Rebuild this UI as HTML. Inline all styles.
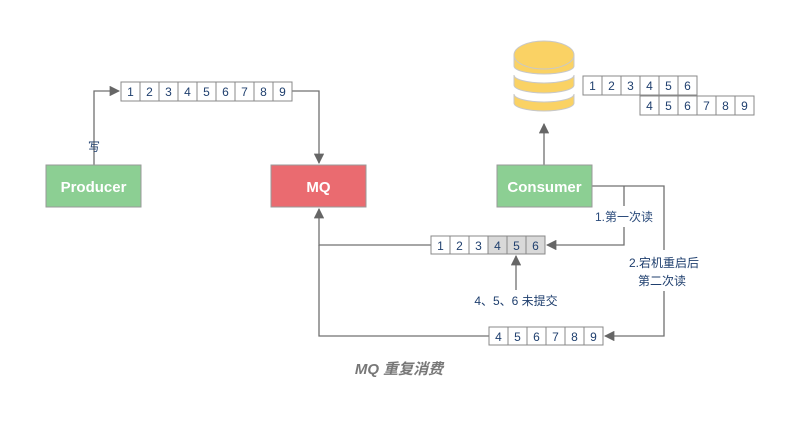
<!DOCTYPE html>
<html><head><meta charset="utf-8"><style>
body{margin:0;background:#fff;}
svg text{font-family:"Liberation Sans","Noto Sans CJK SC",sans-serif;}
</style></head><body>
<svg width="796" height="423" viewBox="0 0 796 423" xmlns="http://www.w3.org/2000/svg">
<defs>
<marker id="a" viewBox="0 0 10 10" refX="9" refY="5" markerWidth="8" markerHeight="8" orient="auto"><path d="M0,0 L10,5 L0,10 z" fill="#666"/></marker>
</defs>
<g stroke="#707070" stroke-width="1.3" fill="none">
<path d="M94,165 V91 H119" marker-end="url(#a)"/>
<path d="M292,91 H319 V163" marker-end="url(#a)"/>
<path d="M544,165 V124" marker-end="url(#a)"/>
<path d="M592,186 H664 V250"/>
<path d="M624,186 V206"/>
<path d="M624,227 V245 H547" marker-end="url(#a)"/>
<path d="M431,245 H319 V209" marker-end="url(#a)"/>
<path d="M516,290 V256" marker-end="url(#a)"/>
<path d="M664,291 V336 H605" marker-end="url(#a)"/>
<path d="M489,336 H319 V245"/>
</g>
<rect x="46" y="165" width="95" height="42" fill="#8ccf93" stroke="#999"/>
<text x="93.5" y="192" font-size="15" font-weight="bold" fill="#fff" text-anchor="middle">Producer</text>
<rect x="271" y="165" width="95" height="42" fill="#ea6b70" stroke="#999"/>
<text x="318.5" y="192" font-size="15" font-weight="bold" fill="#fff" text-anchor="middle">MQ</text>
<rect x="497" y="165" width="95" height="42" fill="#8ccf93" stroke="#999"/>
<text x="544.5" y="192" font-size="15" font-weight="bold" fill="#fff" text-anchor="middle">Consumer</text>
<!-- DB -->
<g fill="#fad264" stroke="#c8c8c8">
<path d="M514,94 V103 A30,8 0 0 0 574,103 V94 A30,8 0 0 1 514,94z"/>
<path d="M514,75 V85 A30,8 0 0 0 574,85 V75 A30,8 0 0 1 514,75z"/>
<path d="M514,55 V66 A30,8 0 0 0 574,66 V55z"/>
<ellipse cx="544" cy="55" rx="30" ry="14"/>
</g>
<g font-size="12" fill="#1f3f6e" text-anchor="middle" stroke="none">
<text x="94" y="151">写</text>
<text x="624" y="221" fill="#2a4a7a">1.第一次读</text>
<text x="664" y="267">2.宕机重启后</text>
<text x="662" y="285">第二次读</text>
<text x="516" y="305">4、5、6 未提交</text>
</g>
<text x="399" y="374" font-size="15" font-weight="bold" font-style="italic" fill="#777" text-anchor="middle">MQ 重复消费</text>
<g font-size="12" fill="#1f3f6e" text-anchor="middle">
<g stroke="#888" fill="#fff"><rect x="121" y="82" width="171" height="19"/></g>
<g stroke="#888"><path d="M140,82V101M159,82V101M178,82V101M197,82V101M216,82V101M235,82V101M254,82V101M273,82V101"/></g>
<text x="130.5" y="96">1</text><text x="149.5" y="96">2</text><text x="168.5" y="96">3</text><text x="187.5" y="96">4</text><text x="206.5" y="96">5</text><text x="225.5" y="96">6</text><text x="244.5" y="96">7</text><text x="263.5" y="96">8</text><text x="282.5" y="96">9</text>
<rect x="583" y="76" width="114" height="19" fill="#fff" stroke="#888"/>
<path d="M602,76V95M621,76V95M640,76V95M659,76V95M678,76V95" stroke="#888"/>
<text x="592.5" y="90">1</text><text x="611.5" y="90">2</text><text x="630.5" y="90">3</text><text x="649.5" y="90">4</text><text x="668.5" y="90">5</text><text x="687.5" y="90">6</text>
<rect x="640" y="96" width="114" height="19" fill="#fff" stroke="#888"/>
<path d="M659,96V115M678,96V115M697,96V115M716,96V115M735,96V115" stroke="#888"/>
<text x="649.5" y="110">4</text><text x="668.5" y="110">5</text><text x="687.5" y="110">6</text><text x="706.5" y="110">7</text><text x="725.5" y="110">8</text><text x="744.5" y="110">9</text>
<rect x="431" y="236" width="114" height="18" fill="#fff" stroke="#888"/>
<rect x="488" y="236" width="57" height="18" fill="#d9d9d9" stroke="#888"/>
<path d="M450,236V254M469,236V254M488,236V254M507,236V254M526,236V254" stroke="#888"/>
<text x="440.5" y="250">1</text><text x="459.5" y="250">2</text><text x="478.5" y="250">3</text><text x="497.5" y="250">4</text><text x="516.5" y="250">5</text><text x="535.5" y="250">6</text>
<rect x="489" y="327" width="114" height="18" fill="#fff" stroke="#888"/>
<path d="M508,327V345M527,327V345M546,327V345M565,327V345M584,327V345" stroke="#888"/>
<text x="498.5" y="341">4</text><text x="517.5" y="341">5</text><text x="536.5" y="341">6</text><text x="555.5" y="341">7</text><text x="574.5" y="341">8</text><text x="593.5" y="341">9</text>
</g>
</svg>
</body></html>
